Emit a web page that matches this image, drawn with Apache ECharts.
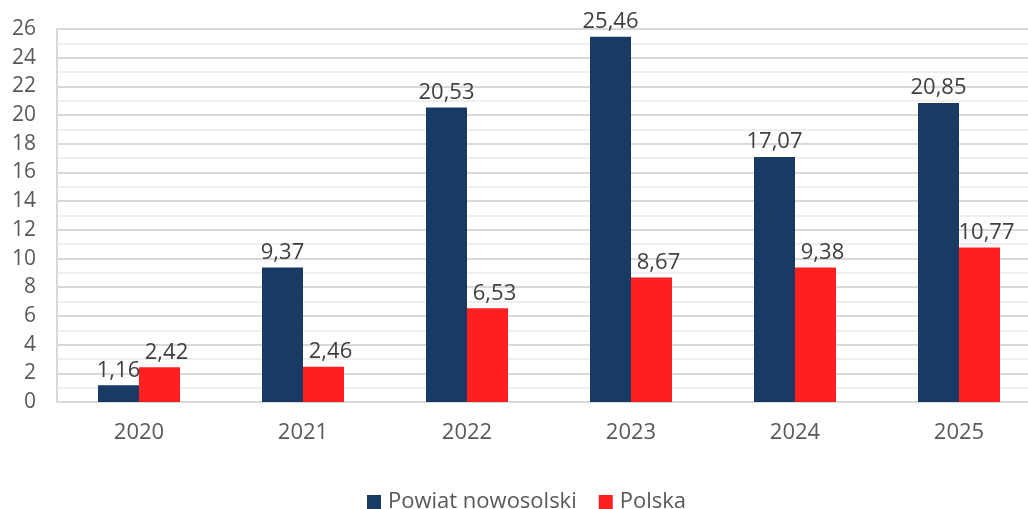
<!DOCTYPE html>
<html>
<head>
<meta charset="utf-8">
<script src="https://cdn.jsdelivr.net/npm/echarts@6/dist/echarts.min.js"></script>
<style>
html,body{margin:0;padding:0;background:#fff;}
#c{width:1028px;height:509px;}
</style>
</head>
<body>
<div id="c"></div>
<script>
const categories = ['2020','2021','2022','2023','2024','2025'];
const powiat = [1.16, 9.37, 20.53, 25.46, 17.07, 20.85];
const polska = [2.42, 2.46, 6.53, 8.67, 9.38, 10.77];
const seriesNames = ['Powiat nowosolski', 'Polska'];

const FONT = '"Open Sans", "Noto Sans", sans-serif';
const fmt = p => p.value.toFixed(2).replace('.', ',');

const chart = echarts.init(document.getElementById('c'));
chart.setOption({
  animation: false,
  textStyle: { fontFamily: FONT },
  grid: { left: 57, top: 29, width: 984, height: 373, containLabel: false, outerBoundsMode: 'none' },
  legend: {
    top: 486,
    left: 362,
    itemWidth: 14, itemHeight: 14, itemGap: 22,
    icon: 'rect',
    textStyle: { fontSize: 22, color: '#595959', fontFamily: FONT, padding: [0, 0, 0, 2] },
    data: seriesNames
  },
  xAxis: {
    type: 'category',
    data: categories,
    axisLine: { show: true, lineStyle: { color: '#d9d9d9', width: 2 } },
    axisTick: { show: false },
    axisLabel: { fontSize: 22, color: '#595959', margin: 20 }
  },
  yAxis: {
    type: 'value',
    min: 0, max: 26, interval: 2,
    axisLine: { show: true, lineStyle: { color: '#d9d9d9', width: 2 } },
    axisTick: { show: false },
    axisLabel: { fontSize: 21, color: '#595959', margin: 21 },
    splitLine: { show: true, lineStyle: { color: '#d9d9d9', width: 2 } },
    minorTick: { show: false, splitNumber: 2 },
    minorSplitLine: { show: true, lineStyle: { color: '#efefef', width: 2 } }
  },
  series: [
    {
      name: seriesNames[0], type: 'bar', data: powiat,
      barGap: '0%', barCategoryGap: '50%',
      itemStyle: { color: '#193b63' },
      label: { show: true, position: 'top', distance: 4, fontSize: 22, color: '#404040', formatter: fmt }
    },
    {
      name: seriesNames[1], type: 'bar', data: polska,
      barGap: '0%', barCategoryGap: '50%',
      itemStyle: { color: '#ff1f1f' },
      label: { show: true, position: 'top', distance: 4, offset: [7, 0], fontSize: 22, color: '#404040', formatter: fmt }
    }
  ]
});
</script>
</body>
</html>
